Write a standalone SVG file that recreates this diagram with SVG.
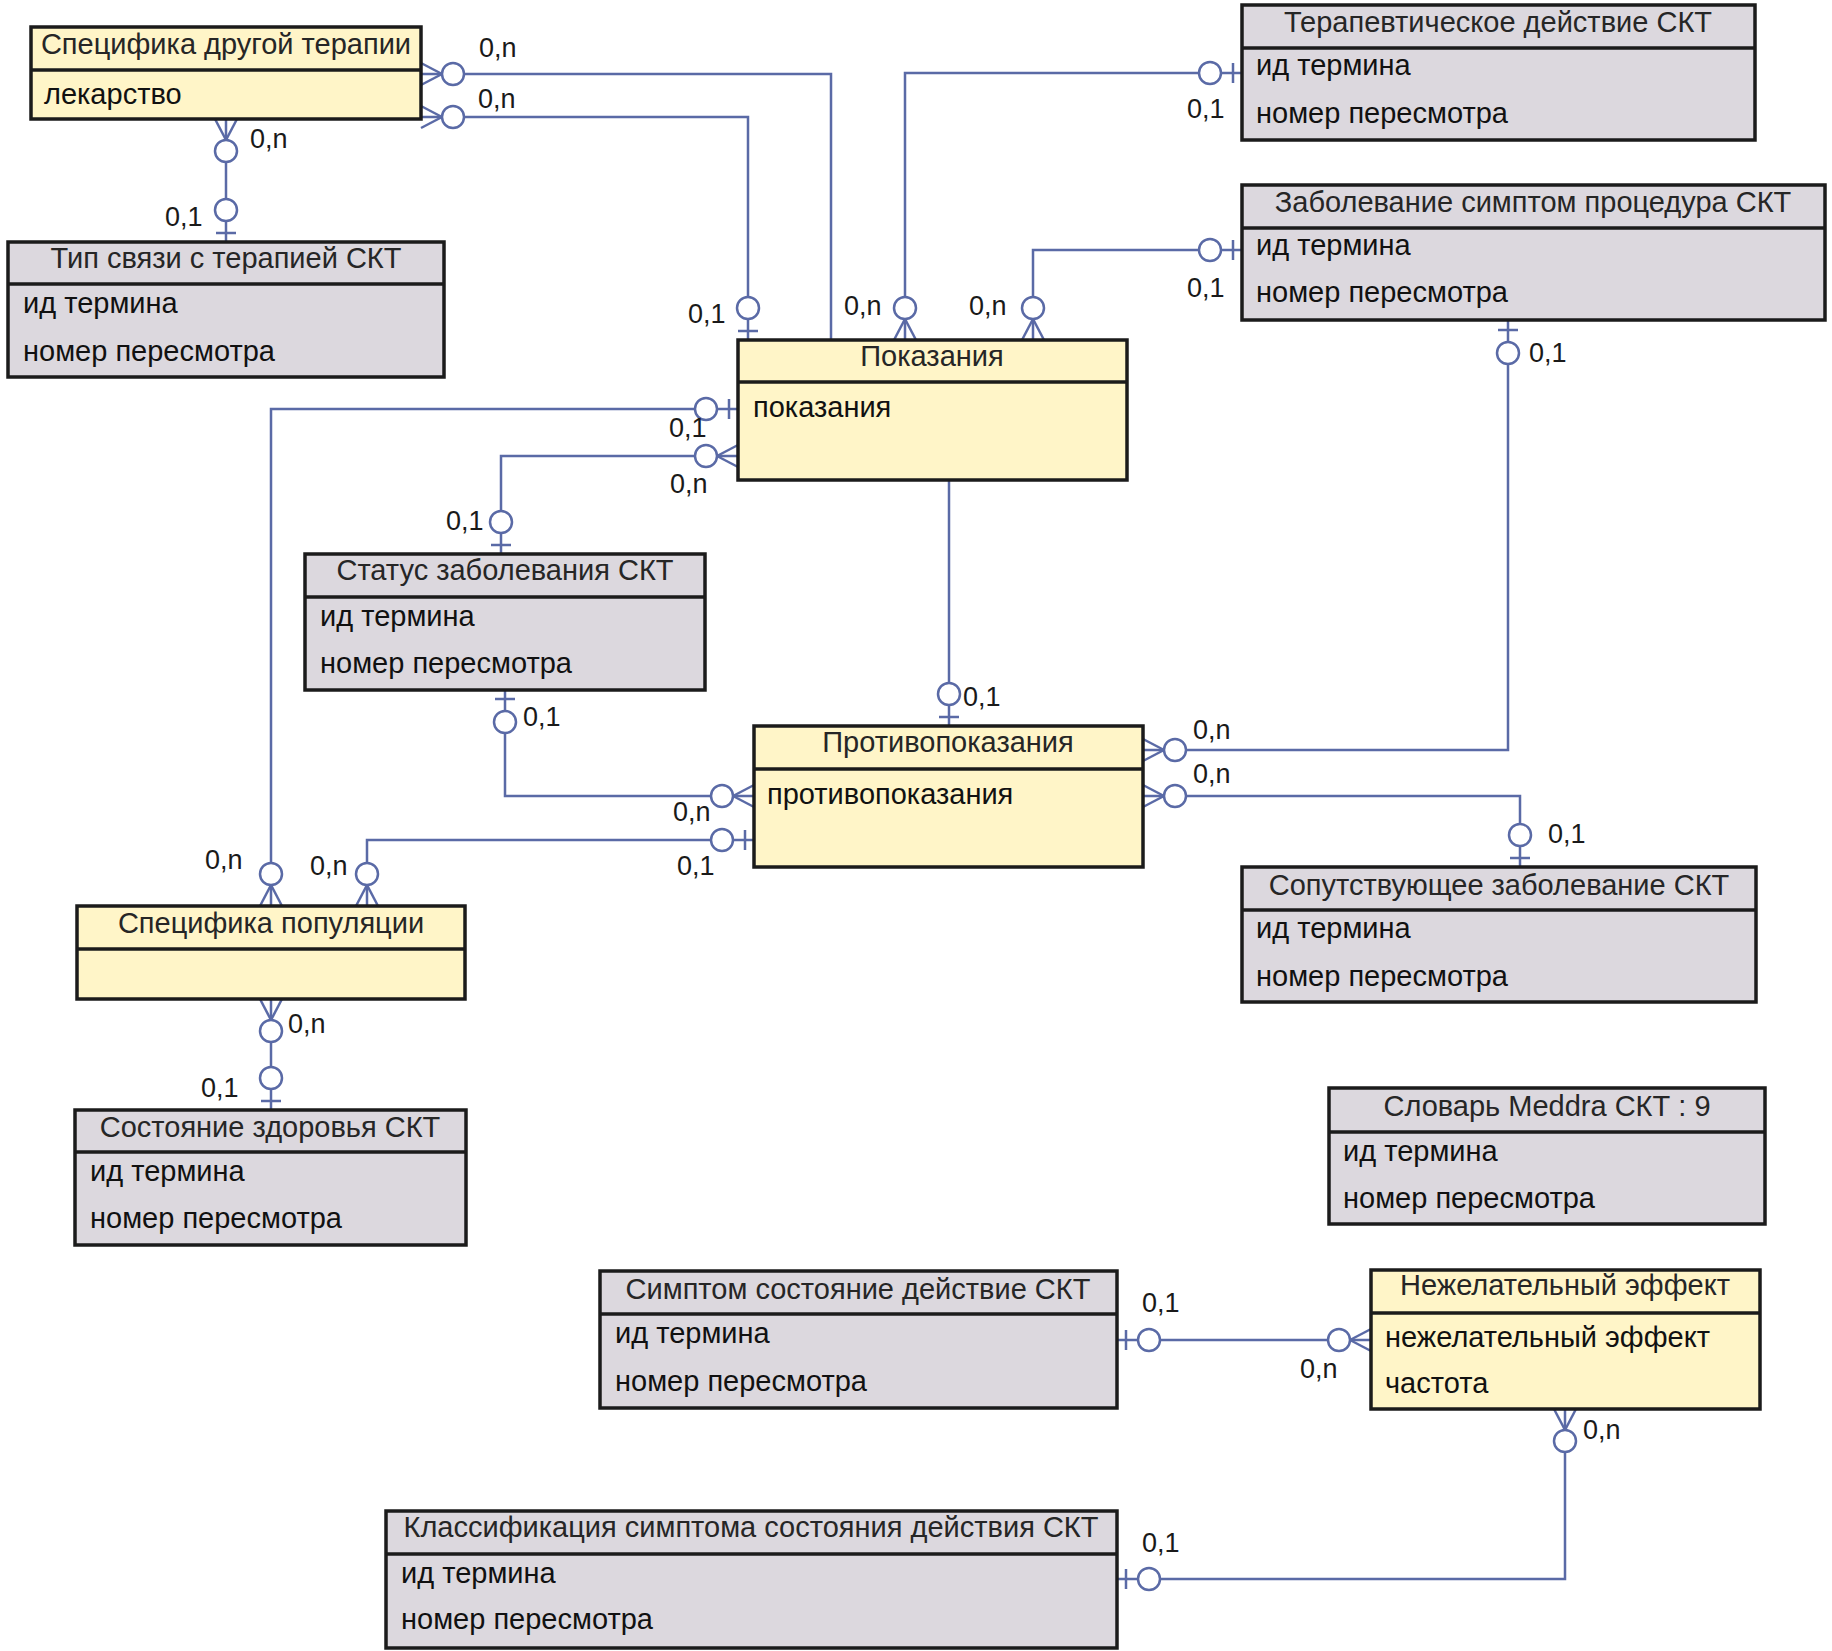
<svg xmlns="http://www.w3.org/2000/svg" xmlns:xlink="http://www.w3.org/1999/xlink" width="1832" height="1651" viewBox="0 0 1832 1651">
<style>
.box rect{stroke:#1b1b1b;stroke-width:3.5}
.yel rect{fill:#FFF5C8}
.gry rect{fill:#DCD8DE}
.div{stroke:#1b1b1b;stroke-width:3.5}
.hdr{font-family:"Liberation Sans",Arial,sans-serif;font-size:29px;fill:#262626;text-anchor:middle}
.att{font-family:"Liberation Sans",Arial,sans-serif;font-size:29px;fill:#111}
.con path,.con line{fill:none;stroke:#5A6AA6;stroke-width:2.5}
.con circle{fill:#fff;stroke:#5A6AA6;stroke-width:2.5}
.lbl{font-family:"Liberation Sans",Arial,sans-serif;font-size:27px;fill:#1a1a1a}
</style>
<defs>
<g id="crow"><line x1="21" y1="0" x2="0" y2="-11" stroke="#5A6AA6" stroke-width="2.5"/><line x1="21" y1="0" x2="0" y2="11" stroke="#5A6AA6" stroke-width="2.5"/><circle cx="32" cy="0" r="11" fill="#fff" stroke="#5A6AA6" stroke-width="2.5"/></g>
<g id="one"><line x1="9" y1="-10" x2="9" y2="10" stroke="#5A6AA6" stroke-width="2.5"/><circle cx="32" cy="0" r="11" fill="#fff" stroke="#5A6AA6" stroke-width="2.5"/></g>
</defs>
<rect width="1832" height="1651" fill="#fff"/>

<g id="connectors" class="con">
<path d="M421 74H831V340"/>
<path d="M421 117H748V340"/>
<path d="M226 119V242"/>
<path d="M1242 73H905V340"/>
<path d="M1242 250H1033V340"/>
<path d="M1508 321V750H1143"/>
<path d="M1143 796H1520V867"/>
<path d="M949 471V726"/>
<path d="M738 409H271V906"/>
<path d="M738 456H501V554"/>
<path d="M505 690V796H754"/>
<path d="M754 840H367V906"/>
<path d="M271 999V1110"/>
<path d="M1117 1340H1371"/>
<path d="M1565 1409V1579H1117"/>
<use xlink:href="#crow" transform="translate(421 74)"/>
<use xlink:href="#crow" transform="translate(421 117)"/>
<use xlink:href="#one" transform="translate(748 340) rotate(-90)"/>
<use xlink:href="#crow" transform="translate(226 119) rotate(90)"/>
<use xlink:href="#one" transform="translate(226 242) rotate(-90)"/>
<use xlink:href="#one" transform="translate(1242 73) rotate(180)"/>
<use xlink:href="#crow" transform="translate(905 340) rotate(-90)"/>
<use xlink:href="#one" transform="translate(1242 250) rotate(180)"/>
<use xlink:href="#crow" transform="translate(1033 340) rotate(-90)"/>
<use xlink:href="#one" transform="translate(1508 321) rotate(90)"/>
<use xlink:href="#crow" transform="translate(1143 750)"/>
<use xlink:href="#crow" transform="translate(1143 796)"/>
<use xlink:href="#one" transform="translate(1520 867) rotate(-90)"/>
<use xlink:href="#one" transform="translate(949 726) rotate(-90)"/>
<use xlink:href="#one" transform="translate(738 409) rotate(180)"/>
<use xlink:href="#crow" transform="translate(271 906) rotate(-90)"/>
<use xlink:href="#crow" transform="translate(738 456) rotate(180)"/>
<use xlink:href="#one" transform="translate(501 554) rotate(-90)"/>
<use xlink:href="#one" transform="translate(505 690) rotate(90)"/>
<use xlink:href="#crow" transform="translate(754 796) rotate(180)"/>
<use xlink:href="#one" transform="translate(754 840) rotate(180)"/>
<use xlink:href="#crow" transform="translate(367 906) rotate(-90)"/>
<use xlink:href="#crow" transform="translate(271 999) rotate(90)"/>
<use xlink:href="#one" transform="translate(271 1110) rotate(-90)"/>
<use xlink:href="#one" transform="translate(1117 1340)"/>
<use xlink:href="#crow" transform="translate(1371 1340) rotate(180)"/>
<use xlink:href="#crow" transform="translate(1565 1409) rotate(90)"/>
<use xlink:href="#one" transform="translate(1117 1579)"/>
<g class="lbls">
<text class="lbl" x="479" y="57">0,n</text>
<text class="lbl" x="478" y="108">0,n</text>
<text class="lbl" x="250" y="148">0,n</text>
<text class="lbl" x="165" y="226">0,1</text>
<text class="lbl" x="688" y="323">0,1</text>
<text class="lbl" x="844" y="315">0,n</text>
<text class="lbl" x="1187" y="118">0,1</text>
<text class="lbl" x="969" y="315">0,n</text>
<text class="lbl" x="1187" y="297">0,1</text>
<text class="lbl" x="1529" y="362">0,1</text>
<text class="lbl" x="1193" y="739">0,n</text>
<text class="lbl" x="1193" y="783">0,n</text>
<text class="lbl" x="1548" y="843">0,1</text>
<text class="lbl" x="963" y="706">0,1</text>
<text class="lbl" x="669" y="437">0,1</text>
<text class="lbl" x="205" y="869">0,n</text>
<text class="lbl" x="670" y="493">0,n</text>
<text class="lbl" x="446" y="530">0,1</text>
<text class="lbl" x="523" y="726">0,1</text>
<text class="lbl" x="673" y="821">0,n</text>
<text class="lbl" x="677" y="875">0,1</text>
<text class="lbl" x="310" y="875">0,n</text>
<text class="lbl" x="288" y="1033">0,n</text>
<text class="lbl" x="201" y="1097">0,1</text>
<text class="lbl" x="1142" y="1312">0,1</text>
<text class="lbl" x="1300" y="1378">0,n</text>
<text class="lbl" x="1583" y="1439">0,n</text>
<text class="lbl" x="1142" y="1552">0,1</text>
</g>
</g>

<g id="spec_other_therapy" class="box yel">
<rect x="31" y="27" width="390" height="92"/>
<line class="div" x1="31" y1="70" x2="421" y2="70"/>
<text class="hdr" x="226" y="54">Специфика другой терапии</text>
<text class="att" x="44" y="104">лекарство</text>
</g>

<g id="link_type" class="box gry">
<rect x="8" y="242" width="436" height="135"/>
<line class="div" x1="8" y1="284" x2="444" y2="284"/>
<text class="hdr" x="226" y="268">Тип связи с терапией СКТ</text>
<text class="att" x="23" y="313">ид термина</text>
<text class="att" x="23" y="361">номер пересмотра</text>
</g>

<g id="therapeutic_action" class="box gry">
<rect x="1242" y="5" width="513" height="135"/>
<line class="div" x1="1242" y1="48" x2="1755" y2="48"/>
<text class="hdr" x="1498" y="32">Терапевтическое действие СКТ</text>
<text class="att" x="1256" y="75">ид термина</text>
<text class="att" x="1256" y="123">номер пересмотра</text>
</g>

<g id="disease_symptom_procedure" class="box gry">
<rect x="1242" y="185" width="583" height="135"/>
<line class="div" x1="1242" y1="228" x2="1825" y2="228"/>
<text class="hdr" x="1533" y="212">Заболевание симптом процедура СКТ</text>
<text class="att" x="1256" y="255">ид термина</text>
<text class="att" x="1256" y="302">номер пересмотра</text>
</g>

<g id="indications" class="box yel">
<rect x="738" y="340" width="389" height="140"/>
<line class="div" x1="738" y1="382" x2="1127" y2="382"/>
<text class="hdr" x="932" y="366">Показания</text>
<text class="att" x="753" y="417">показания</text>
</g>

<g id="disease_status" class="box gry">
<rect x="305" y="554" width="400" height="136"/>
<line class="div" x1="305" y1="597" x2="705" y2="597"/>
<text class="hdr" x="505" y="580">Статус заболевания СКТ</text>
<text class="att" x="320" y="626">ид термина</text>
<text class="att" x="320" y="673">номер пересмотра</text>
</g>

<g id="contraindications" class="box yel">
<rect x="754" y="726" width="389" height="141"/>
<line class="div" x1="754" y1="769" x2="1143" y2="769"/>
<text class="hdr" x="948" y="752">Противопоказания</text>
<text class="att" x="767" y="804">противопоказания</text>
</g>

<g id="comorbidity" class="box gry">
<rect x="1242" y="867" width="514" height="135"/>
<line class="div" x1="1242" y1="910" x2="1756" y2="910"/>
<text class="hdr" x="1499" y="895">Сопутствующее заболевание СКТ</text>
<text class="att" x="1256" y="938">ид термина</text>
<text class="att" x="1256" y="986">номер пересмотра</text>
</g>

<g id="population_spec" class="box yel">
<rect x="77" y="906" width="388" height="93"/>
<line class="div" x1="77" y1="949" x2="465" y2="949"/>
<text class="hdr" x="271" y="933">Специфика популяции</text>
</g>

<g id="health_state" class="box gry">
<rect x="75" y="1110" width="391" height="135"/>
<line class="div" x1="75" y1="1152" x2="466" y2="1152"/>
<text class="hdr" x="270" y="1137">Состояние здоровья СКТ</text>
<text class="att" x="90" y="1181">ид термина</text>
<text class="att" x="90" y="1228">номер пересмотра</text>
</g>

<g id="meddra" class="box gry">
<rect x="1329" y="1088" width="436" height="136"/>
<line class="div" x1="1329" y1="1132" x2="1765" y2="1132"/>
<text class="hdr" x="1547" y="1116">Словарь Meddra СКТ : 9</text>
<text class="att" x="1343" y="1161">ид термина</text>
<text class="att" x="1343" y="1208">номер пересмотра</text>
</g>

<g id="symptom_state_action" class="box gry">
<rect x="600" y="1271" width="517" height="137"/>
<line class="div" x1="600" y1="1314" x2="1117" y2="1314"/>
<text class="hdr" x="858" y="1299">Симптом состояние действие СКТ</text>
<text class="att" x="615" y="1343">ид термина</text>
<text class="att" x="615" y="1391">номер пересмотра</text>
</g>

<g id="adverse_effect" class="box yel">
<rect x="1371" y="1270" width="389" height="139"/>
<line class="div" x1="1371" y1="1313" x2="1760" y2="1313"/>
<text class="hdr" x="1565" y="1295">Нежелательный эффект</text>
<text class="att" x="1385" y="1347">нежелательный эффект</text>
<text class="att" x="1385" y="1393">частота</text>
</g>

<g id="symptom_classification" class="box gry">
<rect x="386" y="1511" width="731" height="137"/>
<line class="div" x1="386" y1="1554" x2="1117" y2="1554"/>
<text class="hdr" x="751" y="1537">Классификация симптома состояния действия СКТ</text>
<text class="att" x="401" y="1583">ид термина</text>
<text class="att" x="401" y="1629">номер пересмотра</text>
</g>
</svg>
